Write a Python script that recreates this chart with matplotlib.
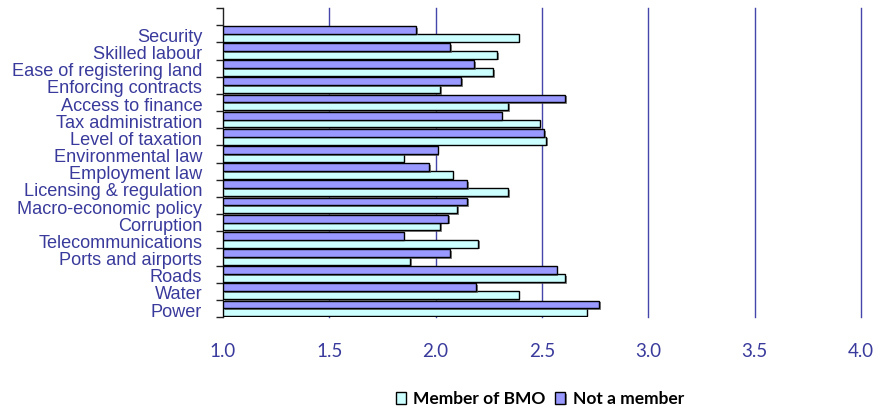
import matplotlib.pyplot as plt
import matplotlib.patheffects as pe
import numpy as np

# Obstacles to business, bottom to top
categories = ["Power", "Water", "Roads", "Ports and airports", "Telecommunications",
              "Corruption", "Macro-economic policy", "Licensing & regulation",
              "Employment law", "Environmental law", "Level of taxation",
              "Tax administration", "Access to finance", "Enforcing contracts",
              "Ease of registering land", "Skilled labour", "Security"]
member = [2.71, 2.39, 2.61, 1.88, 2.20, 2.02, 2.10, 2.34, 2.08, 1.85, 2.52,
          2.49, 2.34, 2.02, 2.27, 2.29, 2.39]
non_member = [2.77, 2.19, 2.57, 2.07, 1.85, 2.06, 2.15, 2.15, 1.97, 2.01, 2.51,
              2.31, 2.61, 2.12, 2.18, 2.07, 1.91]
xticks = [1.0, 1.5, 2.0, 2.5, 3.0, 3.5, 4.0]

text_blue = "#3A3A9C"
grid_blue = "#4545AA"

fig = plt.figure(figsize=(8.82, 4.09), dpi=100)
ax = fig.add_axes([0.2528, 0.2249, 0.7232, 0.7555])

y = np.arange(len(categories))
h = 0.455
shadow = [pe.SimplePatchShadow(offset=(1.2, -1.2), shadow_rgbFace="#555555", alpha=0.7), pe.Normal()]
b1 = ax.barh(y - h / 2, np.array(member) - 1.0, left=1.0, height=h,
             color="#CCFFFF", edgecolor="black", linewidth=1.0, label="Member of BMO", zorder=3)
b2 = ax.barh(y + h / 2, np.array(non_member) - 1.0, left=1.0, height=h,
             color="#9999FF", edgecolor="black", linewidth=1.0, label="Not a member", zorder=3)
for bar in list(b1) + list(b2):
    bar.set_path_effects(shadow)

ax.set_xlim(1.0, 4.0)
ax.set_ylim(-0.5, len(categories) + 0.5)

for v in xticks[1:]:
    ax.axvline(v, color=grid_blue, linewidth=1.0, zorder=1, clip_on=False)

ax.set_xticks(xticks)
ax.set_xticklabels([f"{v:.1f}" for v in xticks], color=text_blue, fontsize=13.5, family="Lato")
ax.tick_params(axis="x", length=0, pad=19)

ax.set_yticks(np.arange(len(categories) + 2) - 0.5)
ax.set_yticklabels([])
ax.set_yticks(y - 0.1, minor=True)
ax.set_yticklabels(categories, minor=True, color=text_blue, fontsize=13.1, family="Liberation Sans")
ax.tick_params(axis="y", which="major", length=5, width=1.0, color="#222222", direction="out")
ax.tick_params(axis="y", which="minor", length=0, pad=15)

for s in ["top", "right", "bottom"]:
    ax.spines[s].set_visible(False)
ax.spines["left"].set_color("#222222")
ax.spines["left"].set_linewidth(1.0)

leg = fig.legend(handles=[b1, b2], loc="center", bbox_to_anchor=(540 / 882, 1 - 399 / 409),
                 ncol=2, frameon=False, handlelength=0.55, handleheight=0.65,
                 handletextpad=0.45, columnspacing=0.55,
                 prop={"family": "Lato", "weight": "bold", "size": 12.5})

fig.savefig("out.png", dpi=100)
